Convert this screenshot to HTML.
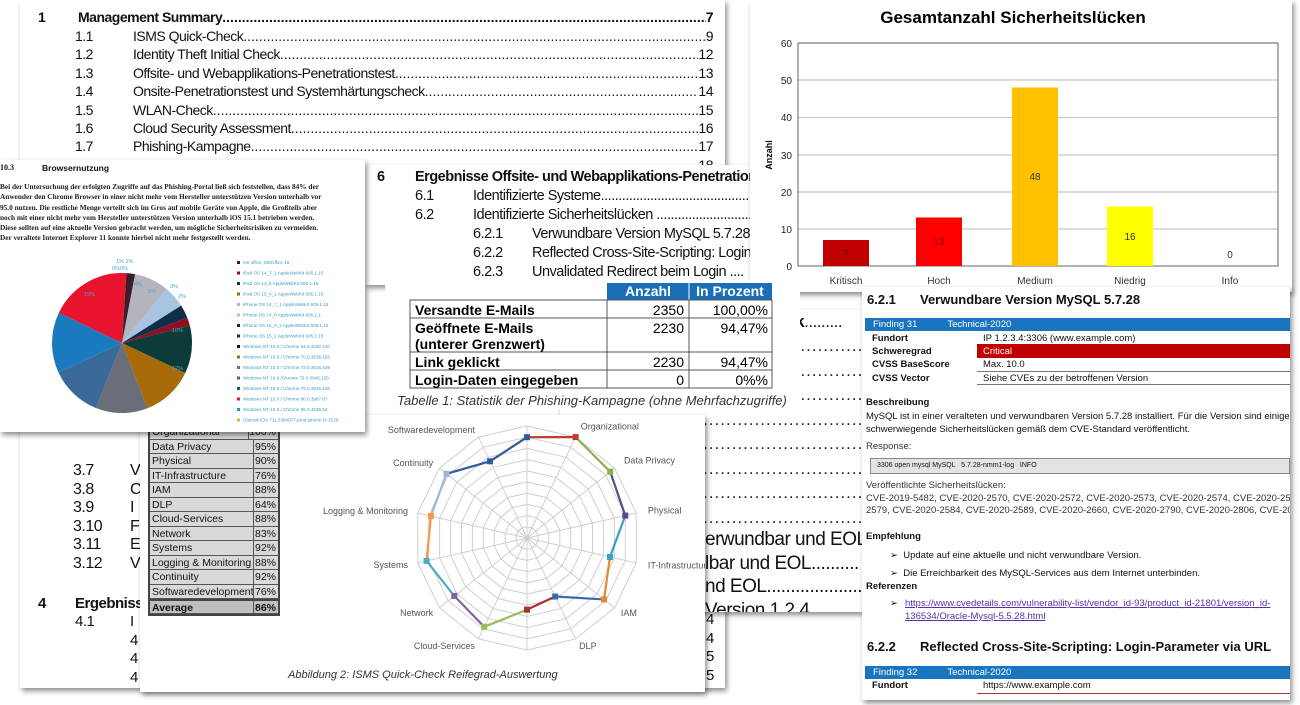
<!DOCTYPE html>
<html><head><meta charset="utf-8">
<style>
*{margin:0;padding:0;box-sizing:border-box}
body{width:1300px;height:705px;background:#fff;position:relative;overflow:hidden;font-family:"Liberation Sans",sans-serif;color:#111}
.pg{position:absolute;background:#fff;box-shadow:2px 3px 5px rgba(0,0,0,.45);overflow:hidden}
.a{position:absolute;white-space:nowrap}
.row{position:absolute;display:flex;white-space:nowrap;font-family:"Liberation Sans Narrow","Liberation Sans",sans-serif;letter-spacing:-0.5px}
.row .d{flex:1;overflow:hidden;letter-spacing:0px}
.n{font-family:"Liberation Sans Narrow","Liberation Sans",sans-serif;letter-spacing:-0.5px}
</style></head><body>

<!-- TOC back page -->
<div class="pg" style="left:20px;top:0;width:705px;height:688px;">
 <div class="row" style="left:18px;top:9px;width:675px;font-size:14px;font-weight:bold"><span style="width:40px">1</span><span>Management Summary</span><span class="d">..................................................................................................................................................</span><span>7</span></div>
 <div id="toc1"></div>
 <div class="a n" style="left:53px;top:462px;font-size:16px;line-height:18.5px">3.7<br>3.8<br>3.9<br>3.10<br>3.11<br>3.12</div>
 <div class="a n" style="left:110px;top:462px;font-size:16px;line-height:18.5px">V<br>C<br>I<br>F<br>E<br>V</div>
 <div class="a n" style="left:18px;top:595px;font-size:15px;font-weight:bold">4</div>
 <div class="a n" style="left:55px;top:595px;font-size:15px;font-weight:bold">Ergebnisse</div>
 <div class="a n" style="left:55px;top:613px;font-size:15px">4.1</div>
 <div class="a n" style="left:110px;top:613px;font-size:15px;line-height:18.5px">I<br>4<br>4<br>4</div>
 <div class="a n" style="left:686px;top:611px;font-size:15px;line-height:18.5px">4<br>4<br>5<br>5</div>
</div>

<!-- dotted page behind -->
<div class="pg" style="left:560px;top:310px;width:302px;height:302px;">
 <div class="a n" style="left:230px;top:2px;font-size:17px;font-weight:bold">:k<span style="font-weight:normal">.........</span></div>
 <div class="a n" style="left:0;top:24px;font-size:17px;line-height:24.5px;letter-spacing:1px;color:#222">
 ..........................................................................<br>..........................................................................<br>..........................................................................<br>..........................................................................<br>..........................................................................<br>..........................................................................<br>..........................................................................<br>..........................................................................<br>..........................................................................</div>
 <div class="a n" style="left:145px;top:218px;font-size:19px;line-height:23.5px;background:#fff">erwundbar und EOL<br>lbar und EOL..........<br>nd EOL.....................<br>Version 1.2.4</div>
</div>

<!-- Section 6 page -->
<div class="pg" style="left:365px;top:165px;width:385px;height:120px;">
 <div class="a n" style="left:12px;top:4px;font-size:14.5px;font-weight:bold">6</div>
 <div class="a n" style="left:50px;top:4px;font-size:14.5px;font-weight:bold">Ergebnisse Offsite- und Webapplikations-Penetrationstest</div>
 <div class="a n" style="left:50px;top:22px;font-size:14.5px;line-height:19px">6.1<br>6.2</div>
 <div class="a n" style="left:108px;top:22px;font-size:14.5px;line-height:19px">Identifizierte Systeme.............................................<br>Identifizierte Sicherheitslücken ..................................</div>
 <div class="a n" style="left:108px;top:60px;font-size:14.5px;line-height:19px">6.2.1<br>6.2.2<br>6.2.3</div>
 <div class="a n" style="left:167px;top:60px;font-size:14.5px;line-height:19px">Verwundbare Version MySQL 5.7.28<br>Reflected Cross-Site-Scripting: Login<br>Unvalidated Redirect beim Login ....</div>
</div>

<!-- Bar chart page -->
<div class="pg" style="left:750px;top:0;width:542px;height:292px;">
<svg width="542" height="292" style="position:absolute;left:0;top:0">
 <text x="263" y="23" font-size="17" font-weight="bold" text-anchor="middle" font-family="Liberation Sans">Gesamtanzahl Sicherheitslücken</text>
 <g stroke="#c8c8c8" stroke-width="1.2">
  <line x1="48" x2="528" y1="43" y2="43"/><line x1="48" x2="528" y1="80" y2="80"/><line x1="48" x2="528" y1="117.5" y2="117.5"/><line x1="48" x2="528" y1="155" y2="155"/><line x1="48" x2="528" y1="192" y2="192"/><line x1="48" x2="528" y1="229" y2="229"/>
 </g>
 <rect x="48" y="43" width="480" height="223" fill="none" stroke="#666" stroke-width="1"/>
 <line x1="48" x2="528" y1="266" y2="266" stroke="#666"/>
 <g font-size="10" text-anchor="end" fill="#222"><text x="42" y="47">60</text><text x="42" y="84">50</text><text x="42" y="121">40</text><text x="42" y="159">30</text><text x="42" y="196">20</text><text x="42" y="233">10</text><text x="42" y="270">0</text></g>
 <text transform="translate(22,155) rotate(-90)" font-size="9" font-weight="bold" text-anchor="middle">Anzahl</text>
 <rect x="73" y="240" width="46" height="26" fill="#c00000"/>
 <rect x="166" y="217.5" width="46" height="48.5" fill="#ff0000"/>
 <rect x="262" y="87.5" width="46" height="178.5" fill="#ffc000"/>
 <rect x="357" y="206.5" width="46" height="59.5" fill="#ffff00"/>
 <g font-size="10" text-anchor="middle" fill="#333">
  <text x="96" y="257" fill="#600">7</text><text x="189" y="245" fill="#800">13</text><text x="285" y="180">48</text><text x="380" y="240">16</text><text x="480" y="258">0</text>
  <text x="96" y="284">Kritisch</text><text x="189" y="284">Hoch</text><text x="285" y="284">Medium</text><text x="380" y="284">Niedrig</text><text x="480" y="284">Info</text>
 </g>
</svg>
</div>

<!-- phishing table overlay -->
<div class="pg" style="left:385px;top:281px;width:415px;height:128px;box-shadow:none;">
<svg width="415" height="128" style="position:absolute;left:0;top:0" font-family="Liberation Sans">
 <rect x="222" y="2" width="165" height="17" fill="#1a6fb8"/>
 <line x1="304" x2="304" y1="2" y2="19" stroke="#fff"/>
 <text x="263" y="15" fill="#fff" font-size="14" font-weight="bold" text-anchor="middle">Anzahl</text>
 <text x="345" y="15" fill="#fff" font-size="14" font-weight="bold" text-anchor="middle">In Prozent</text>
 <g fill="none" stroke="#555" stroke-width="1">
  <rect x="25" y="19" width="362" height="88"/>
  <line x1="25" x2="387" y1="37" y2="37"/><line x1="25" x2="387" y1="71" y2="71"/><line x1="25" x2="387" y1="89" y2="89"/>
  <line x1="222" x2="222" y1="19" y2="107"/><line x1="304" x2="304" y1="19" y2="107"/>
 </g>
 <g font-size="14" font-weight="bold"><text x="30" y="34">Versandte E-Mails</text><text x="30" y="52">Geöffnete E-Mails</text><text x="30" y="68">(unterer Grenzwert)</text><text x="30" y="86">Link geklickt</text><text x="30" y="104">Login-Daten eingegeben</text></g>
 <g font-size="14" text-anchor="end"><text x="299" y="34">2350</text><text x="299" y="52">2230</text><text x="299" y="86">2230</text><text x="299" y="104">0</text>
 <text x="383" y="34">100,00%</text><text x="383" y="52">94,47%</text><text x="383" y="86">94,47%</text><text x="383" y="104">0%%</text></g>
 <text x="207" y="124" font-size="13" font-style="italic" text-anchor="middle" fill="#333">Tabelle 1: Statistik der Phishing-Kampagne (ohne Mehrfachzugriffe)</text>
</svg>
</div>

<!-- radar page -->
<div class="pg" style="left:140px;top:415px;width:565px;height:277px;">
 <div class="a" style="left:8px;top:10px;width:132px;font-family:'Liberation Sans Narrow','Liberation Sans';font-size:10.5px;border:2px solid #444;border-top:none;background:#d9d9d9">
  <div id="tbl"></div>
 </div>
 <svg id="radar" width="565" height="277" style="position:absolute;left:0;top:0" font-family="Liberation Sans"></svg>
 <div class="a" style="left:148px;top:254px;font-size:11px;font-style:italic;color:#333">Abbildung 2: ISMS Quick-Check Reifegrad-Auswertung</div>
</div>

<!-- pie page -->
<div class="pg" style="left:0;top:160px;width:365px;height:272px;">
 <div class="a" style="left:0;top:3px;font-family:'Liberation Serif',serif;font-size:8px;font-weight:bold">10.3</div>
 <div class="a" style="left:42px;top:3px;font-family:'Liberation Sans';font-size:8.5px;font-weight:bold">Browsernutzung</div>
 <div class="a" style="left:0;top:22px;font-family:'Liberation Serif',serif;font-size:7.3px;line-height:10.3px;color:#222;font-weight:bold">Bei der Untersuchung der erfolgten Zugriffe auf das Phishing-Portal ließ sich feststellen, dass 84% der<br>Anwender den Chrome Browser in einer nicht mehr vom Hersteller unterstützen Version unterhalb vor<br>95.0 nutzen. Die restliche Menge verteilt sich im Gros auf mobile Geräte von Apple, die Großteils aber<br>noch mit einer nicht mehr vom Hersteller unterstützen Version unterhalb iOS 15.1 betrieben werden.<br>Diese sollten auf eine aktuelle Version gebracht werden, um mögliche Sicherheitsrisiken zu vermeiden.<br>Der veraltete Internet Explorer 11 konnte hierbei nicht mehr festgestellt werden.</div>
 <svg width="365" height="272" style="position:absolute;left:0;top:0">
  <g transform="translate(122,183) rotate(-90)" id="pie"></g>
  <g font-size="5.5" fill="#4aa0cc" font-family="Liberation Sans">
   <text x="116" y="103">1% 1%</text><text x="112" y="110">0%0%</text>
   <text x="134" y="126">4%</text><text x="148" y="133">5%</text><text x="170" y="128">3%</text><text x="178" y="138">2%</text>
   <text x="172" y="172">10%</text><text x="172" y="210">12%</text><text x="84" y="136">19%</text>
  </g>
  <g id="leg" font-size="4.6" font-family="Liberation Sans" fill="#3b9ac6"></g>
 </svg>
</div>

<!-- MySQL page -->
<div class="pg" style="left:862px;top:287px;width:428px;height:413px;font-family:'Liberation Sans Narrow','Liberation Sans',sans-serif;font-size:10px">
 <div class="a" style="left:5px;top:5px;font-size:13px;font-weight:bold">6.2.1</div>
 <div class="a" style="left:58px;top:5px;font-size:13px;font-weight:bold">Verwundbare Version MySQL 5.7.28</div>
 <div class="a" style="left:3px;top:31px;width:425px;height:13px;background:#1a75c0;color:#fff;font-size:9.5px;line-height:13px;padding-left:8px">Finding 31<span style="margin-left:30px">Technical-2020</span></div>
 <div class="a" style="left:115px;top:57px;width:313px;height:14px;background:#c00000"></div>
 <div class="a" style="left:10px;top:45px;font-weight:bold;line-height:13.2px;font-size:9.5px">Fundort<br>Schweregrad<br>CVSS BaseScore<br>CVSS Vector</div>
 <div class="a" style="left:121px;top:45px;line-height:13.2px;font-size:9.5px">IP 1.2.3.4:3306 (www.example.com)<br><span style="color:#fff">Critical</span><br>Max. 10.0<br>Siehe CVEs zu der betroffenen Version</div>
 <div class="a" style="left:115px;top:84px;width:313px;height:1px;background:#777"></div>
 <div class="a" style="left:115px;top:97px;width:313px;height:1px;background:#777"></div>
 <div class="a" style="left:4px;top:110px;font-weight:bold;font-size:9.5px">Beschreibung</div>
 <div class="a" style="left:4px;top:123px;font-size:9.5px;line-height:13px">MySQL ist in einer veralteten und verwundbaren Version 5.7.28 installiert. Für die Version sind einige<br>schwerwiegende Sicherheitslücken gemäß dem CVE-Standard veröffentlicht.</div>
 <div class="a" style="left:4px;top:154px;font-size:9.5px;color:#333">Response:</div>
 <div class="a" style="left:8px;top:171px;width:420px;height:16px;background:#e4e4e4;border:1px solid #888;font-size:7px;line-height:14px;padding-left:6px">3306 open mysql MySQL &nbsp; 5.7.28-nmm1-log &nbsp; INFO</div>
 <div class="a" style="left:4px;top:193px;font-size:9.5px;line-height:12.5px;color:#333">Veröffentlichte Sicherheitslücken:<br>CVE-2019-5482, CVE-2020-2570, CVE-2020-2572, CVE-2020-2573, CVE-2020-2574, CVE-2020-2577,<br>2579, CVE-2020-2584, CVE-2020-2589, CVE-2020-2660, CVE-2020-2790, CVE-2020-2806, CVE-2020-2</div>
 <div class="a" style="left:4px;top:244px;font-weight:bold;font-size:9.5px">Empfehlung</div>
 <div class="a" style="left:28px;top:260px;font-size:9.5px;line-height:18px">➢ &nbsp;Update auf eine aktuelle und nicht verwundbare Version.<br>➢ &nbsp;Die Erreichbarkeit des MySQL-Services aus dem Internet unterbinden.</div>
 <div class="a" style="left:4px;top:294px;font-weight:bold;font-size:9.5px">Referenzen</div>
 <div class="a" style="left:28px;top:310px;font-size:9.5px;line-height:13px">➢</div>
 <div class="a" style="left:43px;top:310px;font-size:9.5px;line-height:13px;color:#5533aa;text-decoration:underline">https://www.cvedetails.com/vulnerability-list/vendor_id-93/product_id-21801/version_id-<br>136534/Oracle-Mysql-5.5.28.html</div>
 <div class="a" style="left:5px;top:352px;font-size:13px;font-weight:bold">6.2.2</div>
 <div class="a" style="left:58px;top:352px;font-size:13px;font-weight:bold">Reflected Cross-Site-Scripting: Login-Parameter via URL</div>
 <div class="a" style="left:3px;top:379px;width:425px;height:13px;background:#1a75c0;color:#fff;font-size:9.5px;line-height:13px;padding-left:8px">Finding 32<span style="margin-left:30px">Technical-2020</span></div>
 <div class="a" style="left:10px;top:393px;font-weight:bold;font-size:9.5px">Fundort</div>
 <div class="a" style="left:121px;top:393px;font-size:9.5px">https://www.example.com</div>
 <div class="a" style="left:115px;top:406px;width:313px;height:1px;background:#a33"></div>
</div>

<script>
var t=[["1.1","ISMS Quick-Check","9"],["1.2","Identity Theft Initial Check","12"],["1.3","Offsite- und Webapplikations-Penetrationstest","13"],["1.4","Onsite-Penetrationstest und Systemhärtungscheck","14"],["1.5","WLAN-Check","15"],["1.6","Cloud Security Assessment","16"],["1.7","Phishing-Kampagne","17"],["","","18"]];
var h="";var dots=new Array(300).join(".");
t.forEach(function(r,i){h+='<div class="row" style="left:55px;top:'+(28+i*18.4)+'px;width:638px;font-size:14px"><span style="width:58px">'+r[0]+'</span><span>'+r[1]+'</span><span class="d">'+(r[1]?dots:'')+'</span><span>'+r[2]+'</span></div>';});
document.getElementById("toc1").innerHTML=h;
var tb=[["Organizational","100%"],["Data Privacy","95%"],["Physical","90%"],["IT-Infrastructure","76%"],["IAM","88%"],["DLP","64%"],["Cloud-Services","88%"],["Network","83%"],["Systems","92%"],["Logging & Monitoring","88%"],["Continuity","92%"],["Softwaredevelopment","76%"],["Average","86%"]];
h="";tb.forEach(function(r,i){var b=i==12?"font-weight:bold;background:#bfbfbf;border-top:2px solid #444":"";h+='<div style="display:flex;height:14.5px;line-height:14px;border-bottom:1px solid #555;'+b+'"><span style="width:104px;padding-left:2px;border-right:1px solid #555">'+r[0].replace("&","&amp;")+'</span><span style="flex:1;text-align:right;padding-right:2px">'+r[1]+'</span></div>';});
document.getElementById("tbl").innerHTML=h;
var NS="http://www.w3.org/2000/svg",sv=document.getElementById("radar");
function el(n,a,p){var e=document.createElementNS(NS,n);for(var k in a)e.setAttribute(k,a[k]);(p||sv).appendChild(e);return e;}
var cx=387,cy=123,R=112,N=14;
function pt(i,r){var a=i*2*Math.PI/N;return [cx+r*Math.sin(a),cy-r*Math.cos(a)];}
for(var k=1;k<=10;k++){var s="";for(var i=0;i<N;i++){var p=pt(i,R*k/10);s+=p[0].toFixed(1)+","+p[1].toFixed(1)+" ";}el("polygon",{points:s,fill:"none",stroke:"#cfcfcf","stroke-width":1});}
for(var i=0;i<N;i++){var p=pt(i,R);el("line",{x1:cx,y1:cy,x2:p[0],y2:p[1],stroke:"#cfcfcf"});}
var v=[0.9,1.0,0.95,0.9,0.76,0.88,0.58,0.64,0.88,0.83,0.92,0.88,0.92,0.76];
var cols=["#c0392b","#8bb04a","#5b4a8a","#3aa0c8","#e28a30","#3a6ab0","#a8302e","#9bbb59","#8064a2","#4bacc6","#f79646","#9ab8d8","#2f5b9a","#2f5b9a"];
for(var i=0;i<N;i++){var a=pt(i,R*v[i]),b=pt((i+1)%N,R*v[(i+1)%N]);el("line",{x1:a[0],y1:a[1],x2:b[0],y2:b[1],stroke:cols[i],"stroke-width":2.2});el("rect",{x:a[0]-3,y:a[1]-3,width:6,height:6,fill:cols[(i+N-1)%N]});}
var labs=[[1,"Organizational",12,"start"],[2,"Data Privacy",12,"start"],[3,"Physical",12,"start"],[4,"IT-Infrastructure",12,"start"],[5,"IAM",8,"start"],[6,"DLP",8,"start"],[8,"Cloud-Services",8,"end"],[9,"Network",8,"end"],[10,"Systems",10,"end"],[11,"Logging & Monitoring",10,"end"],[12,"Continuity",8,"end"],[13,"Softwaredevelopment",8,"end"]];
labs.forEach(function(l){var p=pt(l[0],R+l[2]);var t=el("text",{x:p[0],y:p[1]+3,"font-size":9,fill:"#555","text-anchor":l[3]});t.textContent=l[1];});
var pie=document.getElementById("pie");
var sl=[[1,"#e8e8e8"],[2,"#3a1e2a"],[8,"#b4b4bc"],[5,"#a9c4e0"],[3,"#0c2e4a"],[2,"#8b1020"],[11,"#0d3b3a"],[12,"#a86a08"],[12,"#6a6e78"],[12,"#3a6a9a"],[14,"#1a7ac0"],[19,"#e8132c"]];
var C=2*Math.PI*35,off=0;
sl.forEach(function(s){var L=s[0]/100*C;el("circle",{r:35,cx:0,cy:0,fill:"none",stroke:s[1],"stroke-width":70,"stroke-dasharray":L.toFixed(2)+" "+(C-L).toFixed(2),"stroke-dashoffset":(-off).toFixed(2)},pie);off+=L;});
var lg=["ms-office; MSOffice 16","iPad OS 14_7_1 AppleWebKit 605.1.15","iPad OS 14_8 AppleWebKit 605.1.15","iPad OS 15_0_1 AppleWebKit 605.1.15","iPhone OS 14_7_1 AppleWebKit 605.1.15","iPhone OS 14_8 AppleWebKit 605.1.1","iPhone OS 15_0_2 AppleWebKit 605.1.15","iPhone OS 15_1 AppleWebKit 605.1.15","Windows NT 10.0 / Chrome 64.0.3282.140","Windows NT 10.0 / Chrome 70.0.3538.102","Windows NT 10.0 / Chrome 72.0.3626.109","Windows NT 10.0 /Chrome 79.0.3945.130","Windows NT 10.0 / Chrome 79.0.3945.136","Windows NT 10.0 / Chrome 80.0.3987.87","Windows NT 10.0 / Chrome 95.0.4638.54","Outlook-iOS 711.3384977.prod.iphone (4.15.0)"];
var lc=["#3a1e2a","#8b1020","#0d3b3a","#a86a08","#b4b4bc","#a9c4e0","#0c2e4a","#3a1e2a","#111","#a86a08","#6a6e78","#3a6a9a","#1a5a70","#e8132c","#1a9ac0","#e8b040"];
var lgg=document.getElementById("leg");
lg.forEach(function(s,i){var y=104+i*10.5;el("rect",{x:237,y:y-3,width:3,height:3,fill:lc[i]},lgg);var t=el("text",{x:243,y:y},lgg);t.textContent=s;});
</script>
</body></html>
